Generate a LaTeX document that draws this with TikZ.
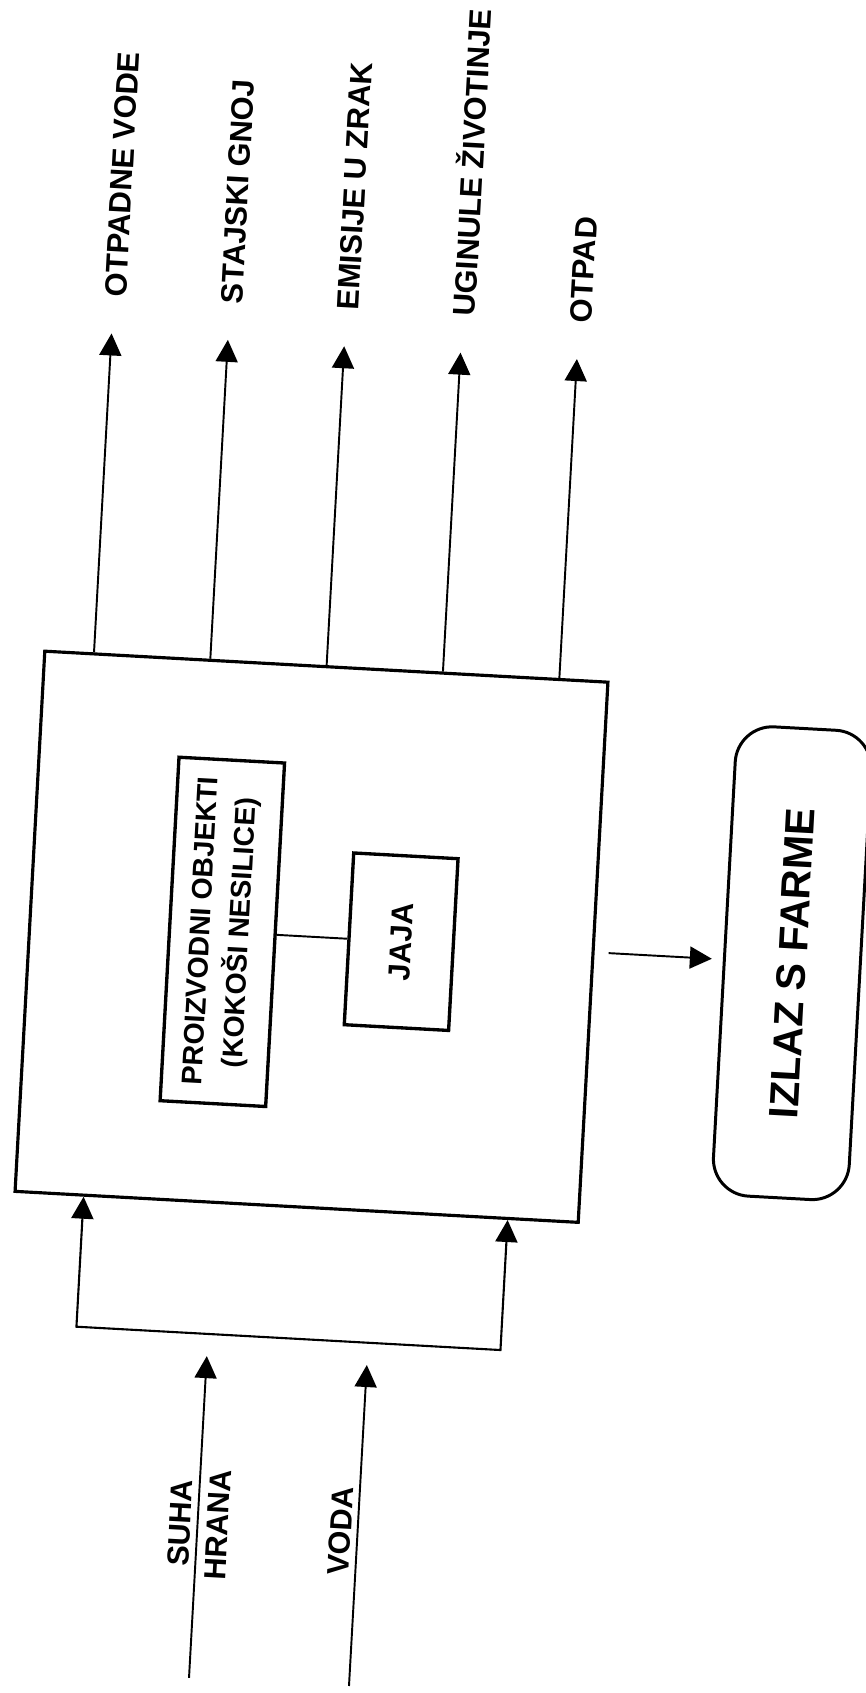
\documentclass[tikz,border=0pt]{standalone}
\usepackage{fontspec}
\setmainfont{Liberation Sans}
\usetikzlibrary{arrows.meta,calc}
\tikzset{
  farmbox/.style={draw,line width=0.9pt,minimum width=5.64cm,minimum height=5.41cm,inner sep=0pt},
  unitbox/.style={draw,line width=0.95pt,rotate=90,inner sep=0pt,align=center,font=\bfseries\fontsize{8.1}{11.2}\selectfont},
  exitbox/.style={draw,line width=0.85pt,rotate=90,rounded corners=3.7mm,minimum width=4.70cm,minimum height=1.36cm,font=\bfseries\fontsize{11.7}{14}\selectfont},
  outlabel/.style={rotate=90,anchor=base west,inner sep=0pt,font=\bfseries\fontsize{8.8}{10.5}\selectfont},
  inlabel/.style={rotate=90,inner sep=0pt,align=center,font=\bfseries\fontsize{8.7}{10.7}\selectfont},
  arrow/.style={-{Triangle[length=2.2mm,width=2.2mm]},line width=0.55pt},
  feed/.style={{Triangle[length=2.2mm,width=2.2mm]}-{Triangle[length=2.2mm,width=2.2mm]},line width=0.6pt},
  link/.style={line width=0.55pt}
}
\begin{document}
\begin{tikzpicture}
  \path[use as bounding box,fill=white] (0,0) rectangle (8.65,-16.93);
  \begin{scope}[shift={(3.115,-9.3675)},rotate=-3.15,transform shape]
    % farm and what happens inside
    \node[farmbox] (farm) at (0,0) {};
    \node[unitbox,minimum width=3.44cm,minimum height=1.057cm] (hens) at (-0.893,0) {PROIZVODNI OBJEKTI\\(KOKOŠI NESILICE)};
    \node[unitbox,minimum width=1.72cm,minimum height=1.045cm,font=\bfseries\fontsize{8.7}{10}\selectfont] (eggs) at (0.898,0) {JAJA};
    \draw[link] (hens.south) -- (eggs.north);
    \node[exitbox] (exit) at (4.815,0) {IZLAZ S FARME};
    \draw[arrow,shorten <=1.4mm,shorten >=1.1mm] (farm.east) -- (exit.north);

    % outputs
    \foreach \i/\x/\name in {1/-2.328/OTPADNE VODE,2/-1.163/STAJSKI GNOJ,3/0.002/EMISIJE U ZRAK,4/1.167/UGINULE ŽIVOTINJE,5/2.333/OTPAD}{
      \coordinate (out\i) at (\x,5.915);
      \node[outlabel] (lab\i) at (\x+0.125,6.273) {\name};
      \draw[arrow] ($(farm.north west)!(out\i)!(farm.north east)$) -- (out\i);
    }

    % inputs
    \coordinate (feedL) at (-2.133,-4.023);
    \coordinate (feedR) at (2.114,-4.023);
    \draw[feed] ($(farm.south west)!(feedL)!(farm.south east)$) -- (feedL) -- (feedR) -- ($(farm.south west)!(feedR)!(farm.south east)$);
    \coordinate (hranaTip) at (-0.815,-4.245);
    \coordinate (hranaEnd) at (-0.816,-7.468);
    \coordinate (vodaTip) at (0.788,-4.246);
    \coordinate (vodaEnd) at (0.786,-7.461);
    \draw[arrow] (hranaEnd) -- (hranaTip);
    \draw[arrow] (vodaEnd) -- (vodaTip);
    \node[inlabel] (hrana) at (-0.803,-5.926) {SUHA\\HRANA};
    \node[inlabel] (voda) at (0.616,-5.918) {VODA};
  \end{scope}
\end{tikzpicture}
\end{document}
